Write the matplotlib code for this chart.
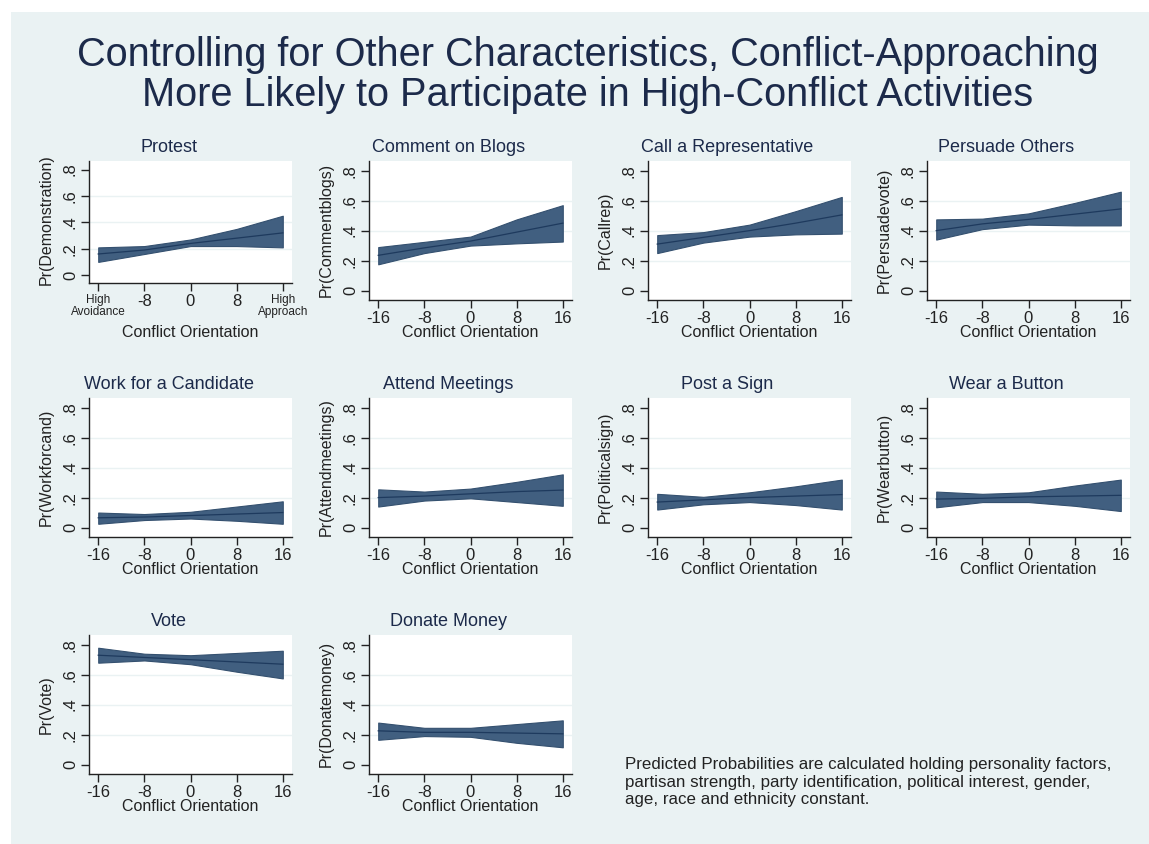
import matplotlib
matplotlib.use("Agg")
import matplotlib.pyplot as plt
from matplotlib.patches import Rectangle

plt.rcParams['font.family'] = ['Liberation Sans', 'DejaVu Sans']

orient = [-16, -8, 0, 8, 16]

panel_titles = ["Protest", "Comment on Blogs", "Call a Representative", "Persuade Others",
                "Work for a Candidate", "Attend Meetings", "Post a Sign", "Wear a Button",
                "Vote", "Donate Money"]
ylabels = ["Pr(Demonstration)", "Pr(Commentblogs)", "Pr(Callrep)", "Pr(Persuadevote)",
           "Pr(Workforcand)", "Pr(Attendmeetings)", "Pr(Politicalsign)", "Pr(Wearbutton)",
           "Pr(Vote)", "Pr(Donatemoney)"]

# predicted probability (mid) and confidence band (lo, hi) per activity
protest_mid = [0.16, 0.19, 0.24, 0.28, 0.32]
protest_lo = [0.10, 0.16, 0.22, 0.22, 0.21]
protest_hi = [0.21, 0.22, 0.27, 0.35, 0.45]

blogs_mid = [0.235, 0.285, 0.33, 0.39, 0.45]
blogs_lo = [0.175, 0.25, 0.30, 0.315, 0.327]
blogs_hi = [0.29, 0.325, 0.36, 0.475, 0.57]

callrep_mid = [0.31, 0.355, 0.40, 0.45, 0.505]
callrep_lo = [0.25, 0.32, 0.36, 0.375, 0.38]
callrep_hi = [0.37, 0.39, 0.44, 0.53, 0.625]

persuade_mid = [0.40, 0.445, 0.475, 0.51, 0.545]
persuade_lo = [0.34, 0.41, 0.44, 0.435, 0.435]
persuade_hi = [0.475, 0.48, 0.515, 0.585, 0.66]

workcand_mid = [0.065, 0.07, 0.08, 0.09, 0.10]
workcand_lo = [0.025, 0.05, 0.06, 0.045, 0.025]
workcand_hi = [0.10, 0.09, 0.105, 0.14, 0.175]

meetings_mid = [0.20, 0.21, 0.225, 0.24, 0.25]
meetings_lo = [0.14, 0.18, 0.195, 0.17, 0.145]
meetings_hi = [0.255, 0.24, 0.26, 0.305, 0.355]

sign_mid = [0.17, 0.185, 0.20, 0.21, 0.22]
sign_lo = [0.12, 0.155, 0.17, 0.15, 0.12]
sign_hi = [0.225, 0.205, 0.235, 0.275, 0.32]

button_mid = [0.19, 0.195, 0.205, 0.21, 0.215]
button_lo = [0.135, 0.17, 0.17, 0.145, 0.11]
button_hi = [0.24, 0.225, 0.235, 0.28, 0.32]

vote_mid = [0.73, 0.715, 0.70, 0.685, 0.67]
vote_lo = [0.68, 0.695, 0.67, 0.62, 0.575]
vote_hi = [0.78, 0.74, 0.73, 0.745, 0.76]

donate_mid = [0.225, 0.215, 0.215, 0.21, 0.205]
donate_lo = [0.165, 0.19, 0.185, 0.145, 0.115]
donate_hi = [0.28, 0.245, 0.245, 0.27, 0.295]

mids = [protest_mid, blogs_mid, callrep_mid, persuade_mid, workcand_mid,
        meetings_mid, sign_mid, button_mid, vote_mid, donate_mid]
los = [protest_lo, blogs_lo, callrep_lo, persuade_lo, workcand_lo,
       meetings_lo, sign_lo, button_lo, vote_lo, donate_lo]
his = [protest_hi, blogs_hi, callrep_hi, persuade_hi, workcand_hi,
       meetings_hi, sign_hi, button_hi, vote_hi, donate_hi]

yticks = [0, 0.2, 0.4, 0.6, 0.8]
ytick_labels = ["0", ".2", ".4", ".6", ".8"]
xticks = [-16, -8, 0, 8, 16]

W, H = 1149, 844
BG = "#EAF2F3"
NAVY_TXT = "#1C2A4A"
TXT = "#222222"
BAND = "#415F80"
LINE = "#1E3A5E"

fig = plt.figure(figsize=(W / 100, H / 100), dpi=100)
fig.patch.set_facecolor("white")
fig.patches.append(Rectangle((11 / W, 0), 1 - 11 / W, 1 - 12 / H,
                             transform=fig.transFigure, facecolor=BG,
                             edgecolor="none", zorder=-10))

# main title, two centred lines
fig.text(588 / W, 1 - 55 / H,
         "Controlling for Other Characteristics, Conflict-Approaching",
         ha="center", va="center", fontsize=28.6, color=NAVY_TXT)
fig.text(588 / W, 1 - 95 / H,
         "More Likely to Participate in High-Conflict Activities",
         ha="center", va="center", fontsize=28.6, color=NAVY_TXT)

col_left = [89, 369, 648, 927]
row_top = [161, 398, 635]
pw, ph = 203, 138.5

for i in range(10):
    r, c = divmod(i, 4)
    left = col_left[c]
    top = row_top[r]
    h = ph if i != 0 else 122
    ax = fig.add_axes([left / W, 1 - (top + h) / H, pw / W, h / H])
    ax.set_facecolor("white")

    ax.fill_between(orient, los[i], his[i], color=BAND, linewidth=0.8,
                    edgecolor="#34506F", zorder=3)
    ax.plot(orient, mids[i], color=LINE, linewidth=0.9, zorder=4)

    ax.set_xlim(-17.6, 17.6)
    ax.set_ylim(-0.06, 0.865)
    ax.set_yticks(yticks)
    ax.set_yticklabels(ytick_labels, rotation=90, va="center")
    ax.set_xticks(xticks)

    for g in [0.2, 0.4, 0.6]:
        ax.axhline(g, color=BG, linewidth=1.0, zorder=1)

    for s in ("top", "right"):
        ax.spines[s].set_visible(False)
    for s in ("left", "bottom"):
        ax.spines[s].set_color(TXT)
        ax.spines[s].set_linewidth(1.0)
    ax.tick_params(axis="both", length=6, width=1.0, color=TXT,
                   labelsize=12, labelcolor=TXT, pad=2)

    if i == 0:
        ax.set_xticklabels(["High\nAvoidance", "-8", "0", "8", "High\nApproach"])
        labs = ax.get_xticklabels()
        for k in (0, 4):
            labs[k].set_fontsize(8.5)
            labs[k].set_linespacing(0.95)
    else:
        ax.set_xticklabels(["-16", "-8", "0", "8", "16"])

    ax.set_xlabel("Conflict Orientation", fontsize=11.5, color=TXT)
    ax.set_ylabel(ylabels[i], fontsize=11.5, color=TXT)
    ax.yaxis.set_label_coords(-35 / pw, 0.5 if i != 0 else 0.52)
    ax.xaxis.set_label_coords(0.5, -(325 - 161 - h) / h)

    fig.text((left + pw / 2 - 22) / W, 1 - (147 + 237 * r) / H, panel_titles[i],
             ha="center", va="center", fontsize=13, color=NAVY_TXT)

fig.text(625 / W, 1 - 757 / H,
         "Predicted Probabilities are calculated holding personality factors,\n"
         "partisan strength, party identification, political interest, gender,\n"
         "age, race and ethnicity constant.",
         ha="left", va="top", fontsize=12.2, color=TXT, linespacing=1.22)

fig.savefig("out.png", dpi=100, facecolor=fig.get_facecolor())
